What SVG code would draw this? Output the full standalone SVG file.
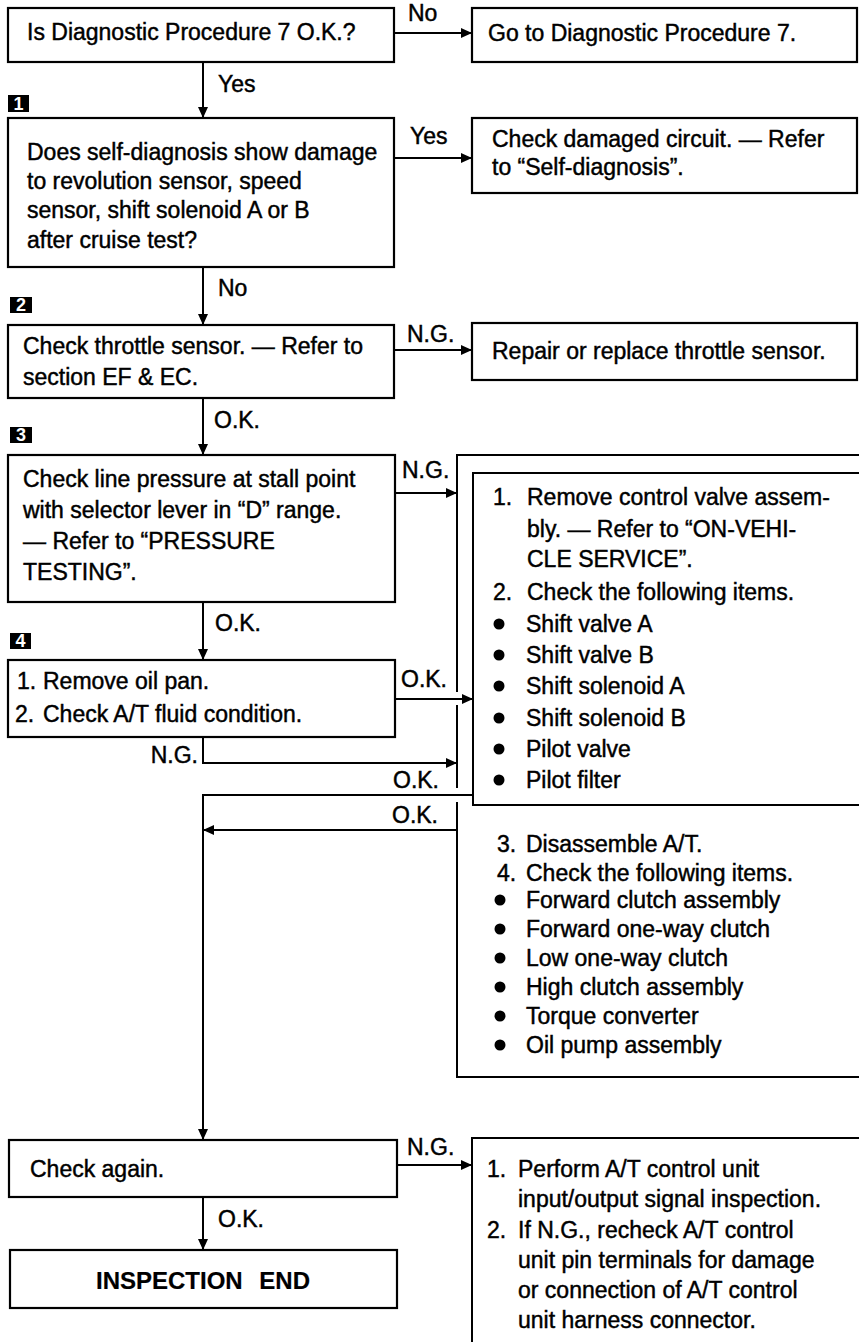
<svg xmlns="http://www.w3.org/2000/svg" width="859" height="1342" viewBox="0 0 859 1342">
<defs>
<marker id="ah" markerUnits="userSpaceOnUse" markerWidth="12" markerHeight="10" refX="11" refY="5" orient="auto">
<path d="M0,0 L11,5 L0,10 z" fill="#000"/>
</marker>
<style>
.box{fill:#fff;stroke:#000;stroke-width:2.2}
.ln{fill:none;stroke:#000;stroke-width:2}
.ar{fill:none;stroke:#000;stroke-width:2;marker-end:url(#ah)}
text{font-family:"Liberation Sans",Arial,sans-serif;font-size:23px;fill:#000;stroke:#000;stroke-width:0.45}
.lb{font-size:23px}
.bd{fill:#000}
.bn{font-size:18px;font-weight:bold;fill:#fff;stroke:none;text-anchor:middle}
.end{font-weight:bold;font-size:24px;text-anchor:middle;word-spacing:10px;stroke-width:0.2}
</style>
</defs>
<rect width="859" height="1342" fill="#fff"/>

<g id="connectors">
<line class="ar" x1="395" y1="33" x2="472" y2="33"/>
<line class="ar" x1="203" y1="62" x2="203" y2="118"/>
<line class="ar" x1="394" y1="158" x2="472" y2="158"/>
<line class="ar" x1="203" y1="267" x2="203" y2="325"/>
<line class="ar" x1="394" y1="350" x2="472" y2="350"/>
<line class="ar" x1="203" y1="398" x2="203" y2="455"/>
<line class="ar" x1="395" y1="493" x2="457" y2="493"/>
<line class="ar" x1="203" y1="602" x2="203" y2="660"/>
<line class="ar" x1="395" y1="699" x2="473" y2="699"/>
<polyline class="ar" points="203,737 203,763 457,763"/>
<polyline class="ar" points="473,795 203,795 203,1140"/>
<line class="ar" x1="457" y1="830" x2="203" y2="830"/>
<line class="ar" x1="397" y1="1165" x2="472" y2="1165"/>
<line class="ar" x1="203" y1="1197" x2="203" y2="1250"/>
<text class="lb" x="408" y="21">No</text>
<text class="lb" x="218" y="92">Yes</text>
<text class="lb" x="410" y="144">Yes</text>
<text class="lb" x="218" y="296">No</text>
<text class="lb" x="407" y="342">N.G.</text>
<text class="lb" x="214" y="428">O.K.</text>
<text class="lb" x="402" y="478">N.G.</text>
<text class="lb" x="215" y="631">O.K.</text>
<text class="lb" x="401" y="687">O.K.</text>
<text class="lb" x="198" y="763" text-anchor="end">N.G.</text>
<text class="lb" x="393" y="788">O.K.</text>
<text class="lb" x="392" y="823">O.K.</text>
<text class="lb" x="407" y="1155">N.G.</text>
<text class="lb" x="218" y="1227">O.K.</text>
</g>

<g id="badges">
<rect class="bd" x="8" y="95" width="21" height="17"/><text class="bn" x="18.5" y="110">1</text>
<rect class="bd" x="10" y="297" width="22" height="16"/><text class="bn" x="21" y="311">2</text>
<rect class="bd" x="10" y="427" width="22" height="16"/><text class="bn" x="21" y="441">3</text>
<rect class="bd" x="10" y="633" width="21" height="16"/><text class="bn" x="20.5" y="647">4</text>
</g>

<g id="q0">
<rect class="box" x="8" y="8" width="386" height="54"/>
<text x="27" y="40">Is Diagnostic Procedure 7 O.K.?</text>
</g>
<g id="r0">
<rect class="box" x="472" y="8" width="385" height="54"/>
<text x="488" y="41">Go to Diagnostic Procedure 7.</text>
</g>
<g id="q1">
<rect class="box" x="8" y="118" width="386" height="149"/>
<text x="27" y="160">Does self-diagnosis show damage</text>
<text x="27" y="189">to revolution sensor, speed</text>
<text x="27" y="218">sensor, shift solenoid A or B</text>
<text x="27" y="248">after cruise test?</text>
</g>
<g id="r1">
<rect class="box" x="472" y="118" width="385" height="75"/>
<text x="492" y="147">Check damaged circuit. — Refer</text>
<text x="492" y="175">to “Self-diagnosis”.</text>
</g>
<g id="q2">
<rect class="box" x="8" y="325" width="386" height="73"/>
<text x="23" y="354">Check throttle sensor. — Refer to</text>
<text x="23" y="385">section EF &amp; EC.</text>
</g>
<g id="r2">
<rect class="box" x="472" y="323" width="385" height="57"/>
<text x="492" y="359">Repair or replace throttle sensor.</text>
</g>
<g id="q3">
<rect class="box" x="8" y="455" width="387" height="147"/>
<text x="23" y="487">Check line pressure at stall point</text>
<text x="23" y="518">with selector lever in “D” range.</text>
<text x="23" y="549">— Refer to “PRESSURE</text>
<text x="23" y="580">TESTING”.</text>
</g>
<g id="q4">
<rect class="box" x="8" y="660" width="387" height="77"/>
<text x="17" y="689">1.</text><text x="43" y="689">Remove oil pan.</text>
<text x="15" y="722">2.</text><text x="43" y="722">Check A/T fluid condition.</text>
</g>
<g id="r3">
<polyline class="ln" points="870,455 457,455 457,692"/>
<line class="ln" x1="457" y1="705" x2="457" y2="788"/>
<polyline class="ln" points="457,802 457,1077 870,1077"/>
<polyline class="ln" points="870,473 473,473 473,805 870,805"/>
<text x="493" y="505">1.</text><text x="527" y="505">Remove control valve assem-</text>
<text x="527" y="537">bly. — Refer to “ON-VEHI-</text>
<text x="527" y="567">CLE SERVICE”.</text>
<text x="493" y="600">2.</text><text x="527" y="600">Check the following items.</text>
<circle cx="499" cy="624" r="5.5"/><text x="526" y="632">Shift valve A</text>
<circle cx="499" cy="655" r="5.5"/><text x="526" y="663">Shift valve B</text>
<circle cx="499" cy="686" r="5.5"/><text x="526" y="694">Shift solenoid A</text>
<circle cx="499" cy="718" r="5.5"/><text x="526" y="726">Shift solenoid B</text>
<circle cx="499" cy="749" r="5.5"/><text x="526" y="757">Pilot valve</text>
<circle cx="499" cy="780" r="5.5"/><text x="526" y="788">Pilot filter</text>
<text x="497" y="852">3.</text><text x="526" y="852">Disassemble A/T.</text>
<text x="497" y="881">4.</text><text x="526" y="881">Check the following items.</text>
<circle cx="500" cy="900" r="5.5"/><text x="526" y="908">Forward clutch assembly</text>
<circle cx="500" cy="929" r="5.5"/><text x="526" y="937">Forward one-way clutch</text>
<circle cx="500" cy="958" r="5.5"/><text x="526" y="966">Low one-way clutch</text>
<circle cx="500" cy="987" r="5.5"/><text x="526" y="995">High clutch assembly</text>
<circle cx="500" cy="1016" r="5.5"/><text x="526" y="1024">Torque converter</text>
<circle cx="500" cy="1045" r="5.5"/><text x="526" y="1053">Oil pump assembly</text>
</g>
<g id="q5">
<rect class="box" x="9" y="1140" width="388" height="57"/>
<text x="30" y="1177">Check again.</text>
</g>
<g id="end">
<rect class="box" x="10" y="1250" width="387" height="58"/>
<text class="end" x="203" y="1289">INSPECTION END</text>
</g>
<g id="r4">
<polyline class="ln" points="870,1138 472,1138 472,1350"/>
<text x="487" y="1177">1.</text><text x="518" y="1177">Perform A/T control unit</text>
<text x="518" y="1207">input/output signal inspection.</text>
<text x="487" y="1238">2.</text><text x="518" y="1238">If N.G., recheck A/T control</text>
<text x="518" y="1268">unit pin terminals for damage</text>
<text x="518" y="1298">or connection of A/T control</text>
<text x="518" y="1328">unit harness connector.</text>
</g>
</svg>
